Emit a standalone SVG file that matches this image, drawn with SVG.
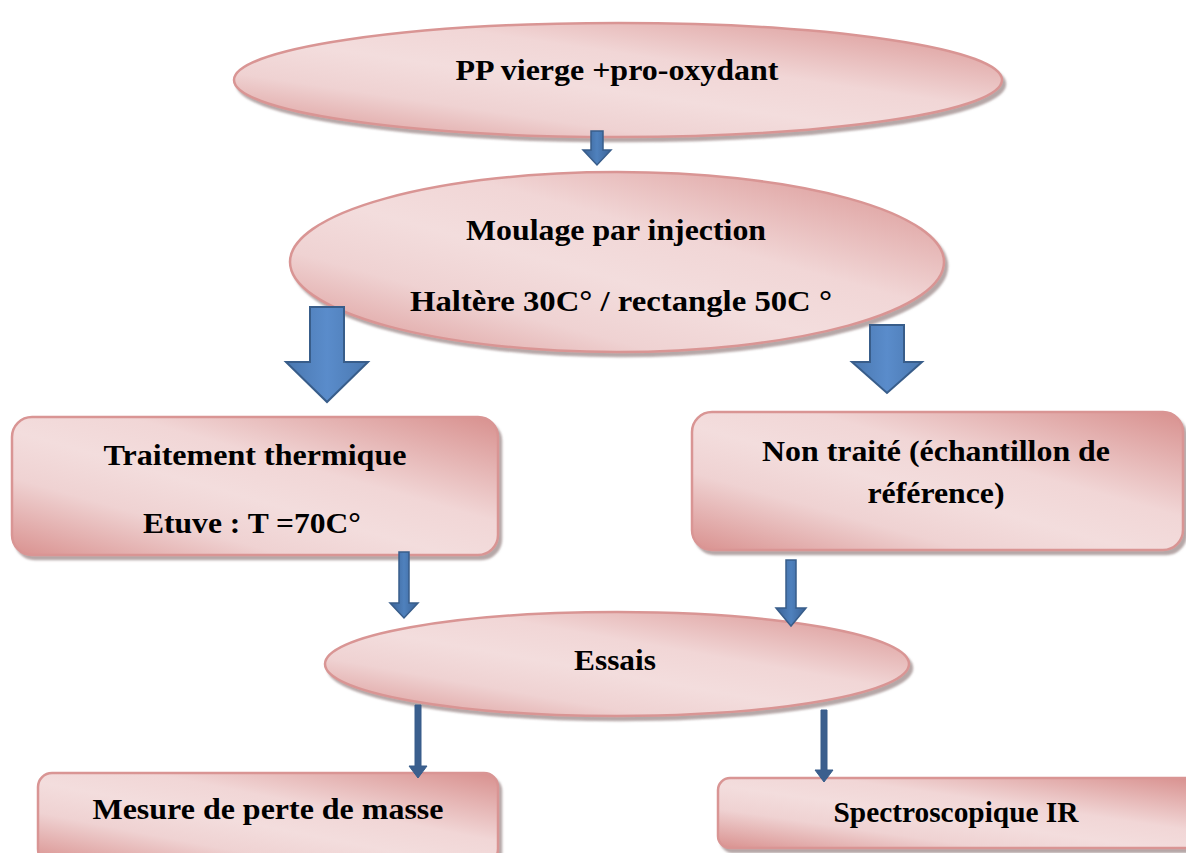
<svg xmlns="http://www.w3.org/2000/svg" width="1186" height="853" viewBox="0 0 1186 853">
<defs>
<linearGradient id="pink" x1="1" y1="0" x2="0" y2="1">
<stop offset="0" stop-color="#d8908e"/>
<stop offset="0.38" stop-color="#f1d6d6"/>
<stop offset="0.55" stop-color="#f3dddd"/>
<stop offset="0.72" stop-color="#efd2d2"/>
<stop offset="1" stop-color="#d9918f"/>
</linearGradient>
<linearGradient id="blue" x1="0" y1="0" x2="1" y2="0">
<stop offset="0" stop-color="#4a78b0"/>
<stop offset="0.5" stop-color="#5a8ccb"/>
<stop offset="1" stop-color="#4a78b0"/>
</linearGradient>
<linearGradient id="blue2" x1="0" y1="0" x2="1" y2="0">
<stop offset="0" stop-color="#3a6296"/>
<stop offset="0.5" stop-color="#4f81bd"/>
<stop offset="1" stop-color="#3a6296"/>
</linearGradient>
<filter id="sh" x="-10%" y="-10%" width="120%" height="130%">
<feDropShadow dx="3" dy="4" stdDeviation="1.2" flood-color="#7a6060" flood-opacity="0.55"/>
</filter>
</defs>
<style>
.node{fill:url(#pink);stroke:#d99594;stroke-width:2.5;filter:url(#sh)}
.t{font-family:"Liberation Serif","Times New Roman",serif;font-weight:bold;font-size:30px;fill:#000;text-anchor:middle}
.arr{fill:url(#blue);stroke:#385d8a;stroke-width:2;stroke-linejoin:miter}
.arr2{fill:url(#blue2);stroke:#385d8a;stroke-width:1.5;stroke-linejoin:miter}
.arr3{fill:#3b5f8e;stroke:#385d8a;stroke-width:1}
</style>
<rect width="1186" height="853" fill="#fff"/>

<g id="n1">
<ellipse class="node" cx="618" cy="80" rx="384" ry="57"/>
<text class="t" x="617" y="80" textLength="323" lengthAdjust="spacingAndGlyphs">PP vierge +pro-oxydant</text>
</g>
<g id="n2">
<ellipse class="node" cx="617" cy="262" rx="327" ry="90"/>
<text class="t" x="616" y="240" textLength="300" lengthAdjust="spacingAndGlyphs">Moulage par injection</text>
<text class="t" x="621" y="311" textLength="422" lengthAdjust="spacingAndGlyphs">Haltère 30C° / rectangle 50C °</text>
</g>
<g id="n3">
<rect class="node" x="12" y="417" width="486" height="138" rx="20"/>
<text class="t" x="255" y="465" textLength="303" lengthAdjust="spacingAndGlyphs">Traitement thermique</text>
<text class="t" x="252" y="533" textLength="218" lengthAdjust="spacingAndGlyphs">Etuve : T =70C°</text>
</g>
<g id="n4">
<rect class="node" x="692" y="412" width="491" height="138" rx="20"/>
<text class="t" x="936" y="461" textLength="348" lengthAdjust="spacingAndGlyphs">Non traité (échantillon de</text>
<text class="t" x="936" y="503" textLength="137" lengthAdjust="spacingAndGlyphs">référence)</text>
</g>
<g id="n5">
<ellipse class="node" cx="617" cy="664" rx="292" ry="52"/>
<text class="t" x="615" y="670" textLength="82" lengthAdjust="spacingAndGlyphs">Essais</text>
</g>
<g id="n6">
<rect class="node" x="38" y="773" width="460" height="90" rx="14"/>
<text class="t" x="268" y="819" textLength="351" lengthAdjust="spacingAndGlyphs">Mesure de perte de masse</text>
</g>
<g id="n7">
<rect class="node" x="718" y="778" width="480" height="70" rx="12"/>
<text class="t" x="956" y="822" font-size="28" textLength="245" lengthAdjust="spacingAndGlyphs">Spectroscopique IR</text>
</g>

<g id="connectors">
<polygon class="arr2" points="591,131 603,131 603,150 611,150 597,165 583,150 591,150"/>
<polygon class="arr" points="310,307 344,307 344,362 368,362 327,402 286,362 310,362"/>
<polygon class="arr" points="870,325 904,325 904,362 922,362 887,393 852,362 870,362"/>
<polygon class="arr2" points="399,552 409,552 409,603 418,603 404,618 390,603 399,603"/>
<polygon class="arr2" points="786,560 796,560 796,608 806,608 791,626 776,608 786,608"/>
<polygon class="arr3" points="415,705 421,705 421,766 427,766 418,778 409,766 415,766"/>
<polygon class="arr3" points="821,710 827,710 827,770 833,770 824,782 815,770 821,770"/>
</g>
</svg>
